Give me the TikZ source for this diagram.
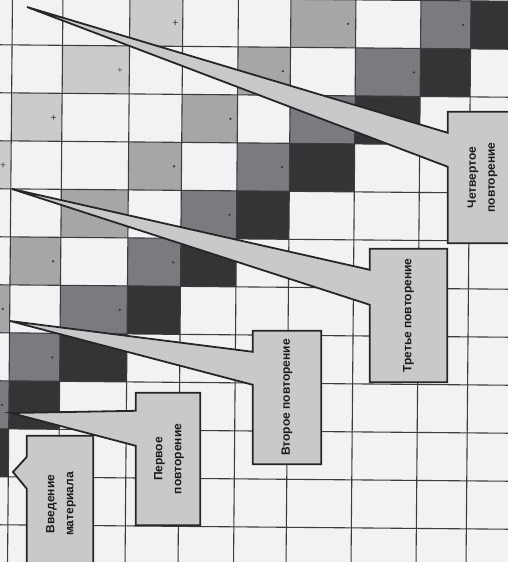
\documentclass[tikz,border=0pt]{standalone}
\usepackage{fontspec}
\setsansfont{Liberation Sans}
\usepackage{graphicx}
\usetikzlibrary{calc}

\definecolor{paper}{HTML}{F2F2F4}
\definecolor{lite}{HTML}{CBCBCD}
\definecolor{midgray}{HTML}{A6A6A8}
\definecolor{deep}{HTML}{7B7A7E}
\definecolor{darkcell}{HTML}{343437}
\definecolor{gridline}{HTML}{3C3C3E}
\definecolor{boxgray}{HTML}{C9C9CB}
\definecolor{edge}{HTML}{262628}
\definecolor{ink}{HTML}{1C1C1E}

\pgfdeclarelayer{back}
\pgfdeclarelayer{under}
\pgfsetlayers{back,under,main}

\begin{document}
\begin{tikzpicture}[x=1pt, y=-1pt,
  gline/.style={gridline, line width=1.1pt},
  plusmark/.style={gridline, line width=0.6pt},
  box/.style={inner sep=0pt, font=\sffamily\bfseries\fontsize{12}{19}\selectfont, text=ink},
  callout/.style={fill=boxgray, draw=edge, line width=1.8pt}]
\useasboundingbox (0,0) rectangle (508,562);
\clip (0,0) rectangle (508,562);

\begin{pgfonlayer}{back}
\clip (0,0) rectangle (508,562);
\fill[paper] (0,0) rectangle (508,562);
\begin{scope}[rotate around={-0.5:(254,281)}]
\foreach \xa/\ya/\xb/\yb in {127.5/-1/180.5/47, 60.5/47/127.5/95, 10/95/60.5/143, -40/143/10/191}
  \fill[lite] (\xa,\ya) rectangle (\xb,\yb);
\foreach \xa/\ya/\xb/\yb in {288.5/-1/353.5/47, 236/47/288.5/95, 180.5/95/236/143, 127.5/143/180.5/191,
    60.5/191/127.5/239, 10/239/60.5/287, -40/287/10/335}
  \fill[midgray] (\xa,\ya) rectangle (\xb,\yb);
\foreach \xa/\ya/\xb/\yb in {418.5/-1/468.5/47, 353.5/47/418.5/95, 288.5/95/353.5/143, 236/143/288.5/191,
    180.5/191/236/239, 127.5/239/180.5/287, 60.5/287/127.5/335, 10/335/60.5/383, -40/383/10/431}
  \fill[deep] (\xa,\ya) rectangle (\xb,\yb);
\foreach \xa/\ya/\xb/\yb in {468.5/-1/530/47, 418.5/47/468.5/95, 353.5/95/418.5/143, 288.5/143/353.5/191,
    236/191/288.5/239, 180.5/239/236/287, 127.5/287/180.5/335, 60.5/335/127.5/383, 10/383/60.5/431, -40/431/10/479}
  \fill[darkcell] (\xa,\ya) rectangle (\xb,\yb);

\foreach \y in {-1,47,...,575}
  \draw[gline] (-40,\y) -- (540,\y);
\foreach \x in {10,60.5,127.5,180.5,236,288.5,353.5,418.5,468.5}
  \draw[gline] (\x,-20) -- (\x,600);

\foreach \x/\y in {173/23, 118/71, 52/119, 2/167}
  \draw[plusmark] (\x-2.5,\y) -- (\x+2.5,\y) (\x,\y-2.5) -- (\x,\y+2.5);
\foreach \x/\y in {346/23, 281/71, 229/119, 173/167, 120/215, 53/263, 3/311,
    461/23, 412/71, 346/119, 281/167, 229/215, 173/263, 120/311, 53/359, 3/407}
  \fill[gridline] (\x,\y) circle (1.3pt);
\end{scope}
\end{pgfonlayer}

\coordinate (tip0) at (13,472);
\coordinate (tip1) at (11,413);
\coordinate (tip2) at (10,321);
\coordinate (tip3) at (12,189);
\coordinate (tip4) at (27,7);

\node[box, minimum width=66pt, minimum height=136pt] (rep0) at (60,504)
  {\rotatebox{90}{\begin{tabular}{@{}c@{}}Введение\\материала\end{tabular}}};
\node[box, minimum width=64pt, minimum height=132pt] (rep1) at (168,459)
  {\rotatebox{90}{\begin{tabular}{@{}c@{}}Первое\\повторение\end{tabular}}};
\node[box, minimum width=68pt, minimum height=133pt] (rep2) at (287,397.5)
  {\rotatebox{90}{Второе повторение}};
\node[box, minimum width=77pt, minimum height=133pt] (rep3) at (408.5,315.5)
  {\rotatebox{90}{Третье повторение}};
\node[box, minimum width=67pt, minimum height=131pt] (rep4) at (481.5,177.5)
  {\rotatebox{90}{\begin{tabular}{@{}c@{}}Четвертое\\повторение\end{tabular}}};

\begin{pgfonlayer}{under}
\clip (0,0) rectangle (508,562);
\filldraw[callout] (rep0.north east) -- (rep0.north west) -- ($(rep0.north west)!21pt!(rep0.south west)$)
  -- (tip0) -- ($(rep0.north west)!53pt!(rep0.south west)$) -- (rep0.south west) -- (rep0.south east) -- cycle;
\filldraw[callout] (rep1.north east) -- (rep1.north west) -- ($(rep1.north west)!18pt!(rep1.south west)$)
  -- (tip1) -- ($(rep1.north west)!53pt!(rep1.south west)$) -- (rep1.south west) -- (rep1.south east) -- cycle;
\filldraw[callout] (rep2.north east) -- (rep2.north west) -- ($(rep2.north west)!21pt!(rep2.south west)$)
  -- (tip2) -- ($(rep2.north west)!54pt!(rep2.south west)$) -- (rep2.south west) -- (rep2.south east) -- cycle;
\filldraw[callout] (rep3.north east) -- (rep3.north west) -- ($(rep3.north west)!21pt!(rep3.south west)$)
  -- (tip3) -- ($(rep3.north west)!56pt!(rep3.south west)$) -- (rep3.south west) -- (rep3.south east) -- cycle;
\filldraw[callout] (rep4.north east) -- (rep4.north west) -- ($(rep4.north west)!21pt!(rep4.south west)$)
  -- (tip4) -- ($(rep4.north west)!55pt!(rep4.south west)$) -- (rep4.south west) -- (rep4.south east) -- cycle;
\end{pgfonlayer}
\end{tikzpicture}
\end{document}
